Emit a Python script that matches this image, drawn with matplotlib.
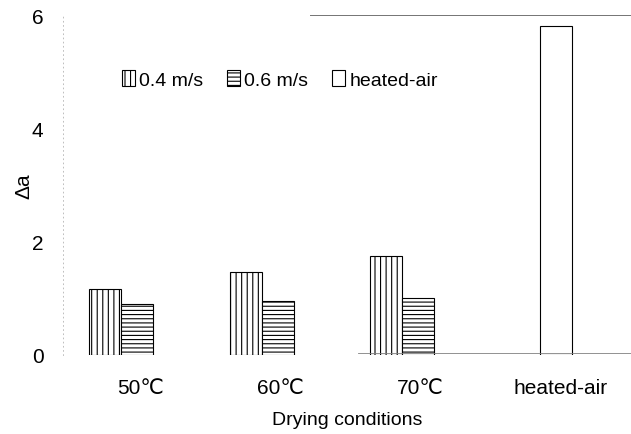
import matplotlib
matplotlib.use('Agg')
import matplotlib.pyplot as plt
import numpy as np

conditions = ['50\u2103', '60\u2103', '70\u2103', 'heated-air']
speed_04 = [1.16, 1.46, 1.75]
speed_06 = [0.90, 0.95, 1.01]
heated_air = [5.8]
series_names = ['0.4 m/s', '0.6 m/s', 'heated-air']
yticks = [0, 2, 4, 6]

plt.rcParams['font.family'] = ['Liberation Sans', 'DejaVu Sans']
plt.rcParams['hatch.linewidth'] = 0.8

fig = plt.figure(figsize=(6.31, 4.35), dpi=100)
ax = fig.add_axes([0.0998, 0.182, 0.9002, 0.781])

x = np.arange(len(conditions))
w = 0.228

ax.bar(x[:3] - w - 0.02, speed_04, width=w, facecolor='white', edgecolor='black',
       linewidth=0.8, hatch='|||', label=series_names[0])
ax.bar(x[:3] - 0.02, speed_06, width=w, facecolor='white', edgecolor='black',
       linewidth=0.8, hatch='----', label=series_names[1])
ax.bar(x[3:] - 0.035, heated_air, width=w, facecolor='white', edgecolor='black',
       linewidth=0.8, label=series_names[2])

ax.set_xlim(-0.55, 3.5)
ax.set_ylim(0, 6)
ax.set_xticks(x)
ax.set_xticklabels(conditions, fontsize=15)
ax.set_yticks(yticks)
ax.set_yticklabels([str(t) for t in yticks], fontsize=15)
ax.tick_params(axis='both', length=0)
ax.tick_params(axis='x', pad=17)
ax.tick_params(axis='y', pad=14)

ax.set_xlabel('Drying conditions', fontsize=14, labelpad=10)
ax.set_ylabel('\u0394a', fontsize=15, labelpad=-1)

# faint frame: dotted left axis, partial top and bottom rules
for s in ['top', 'bottom', 'right']:
    ax.spines[s].set_visible(False)
ax.spines['left'].set_color('0.7')
ax.spines['left'].set_linewidth(0.6)
ax.spines['left'].set_linestyle((0, (1, 4)))
ax.axhline(6, xmin=0.435, xmax=1.0, color='0.45', linewidth=0.7, clip_on=False)
ax.axhline(0.03, xmin=0.52, xmax=1.0, color='0.5', linewidth=0.6)

leg = ax.legend(loc='upper left', bbox_to_anchor=(0.09, 0.86), ncol=3, frameon=False,
                fontsize=14, handlelength=0.7, handleheight=0.85,
                handletextpad=0.2, columnspacing=1.2, borderaxespad=0)

fig.savefig('out.png', dpi=100)
